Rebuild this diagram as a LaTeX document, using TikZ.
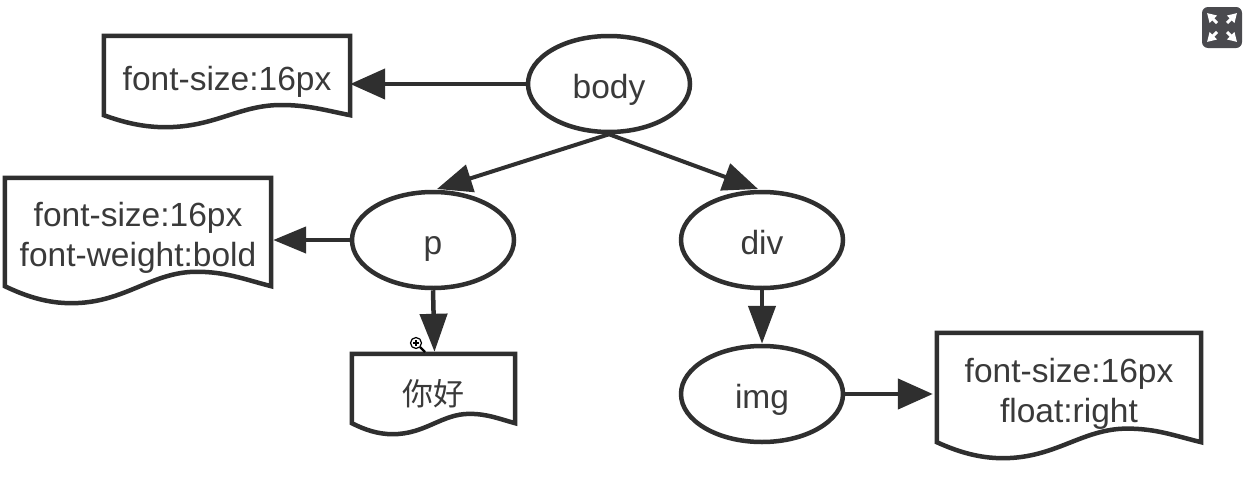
\documentclass[tikz,border=0pt]{standalone}
\usepackage{fontspec}
\setmainfont{Liberation Sans}
\newfontfamily\cjkfont{Noto Sans CJK SC}
\usetikzlibrary{arrows.meta,calc,shapes.geometric}
\definecolor{inkline}{HTML}{2F2F2F}
\definecolor{inktext}{HTML}{3A3A3A}
\definecolor{btnfill}{HTML}{4A4A4E}
% #1 node, #2 wave amplitude, #3 extra drop of the wave below the node
\newcommand{\docwave}[3]{%
  \draw[docline] let \p1=(#1.south west),\p2=(#1.north east),\n1={\x2-\x1},\n2={#2pt},\n3={\y1-#3pt} in
    (\x1,\n3+\n2) -- (\x1,\y2) -- (\x2,\y2) -- (\x2,\n3+\n2)
    .. controls (\x1+.90*\n1,\n3+1.4*\n2) and (\x1+.83*\n1,\n3+1.85*\n2) .. (\x1+.72*\n1,\n3+1.85*\n2)
    .. controls (\x1+.55*\n1,\n3+1.85*\n2) and (\x1+.45*\n1,\n3) .. (\x1+.25*\n1,\n3)
    .. controls (\x1+.16*\n1,\n3) and (\x1+.08*\n1,\n3+.4*\n2) .. cycle;}
\tikzset{
  x=1pt,y=-1pt,
  every node/.style={text=inktext,font=\fontsize{33.5}{40}\selectfont,align=center,inner sep=0pt},
  oval/.style={ellipse,draw=inkline,line width=4.5pt,minimum width=162pt,minimum height=96pt,text height=28pt,text depth=0pt},
  docbox/.style 2 args={rectangle,minimum width=#1pt,minimum height=#2pt},
  docline/.style={draw=inkline,line width=4.5pt,line join=miter},
  link/.style={draw=inkline,line width=4.5pt,-{Triangle[length=35pt,width=30pt]}},
  slantlink/.style={draw=inkline,line width=4pt,-{Triangle[length=35pt,width=28pt]}},
  smalllink/.style={draw=inkline,line width=4.5pt,-{Triangle[length=33pt,width=26pt]}},
  talllink/.style={draw=inkline,line width=4.5pt,-{Triangle[length=38pt,width=27pt]}},
  btnarrow/.style={draw=white,line width=3pt,-{Triangle[length=9pt,width=10pt]}}
}
\begin{document}
\begin{tikzpicture}
\useasboundingbox (0,0) rectangle (1247,479);
\fill[white] (0,0) rectangle (1247,479);
% ovals
\node[oval] (body) at (609,84) {body};
\node[oval] (p) at (433,240) {p};
\node[oval] (div) at (762,240) {div};
\node[oval] (img) at (762,394) {img};
% documents
\node[docbox={246}{91}] (d1) at (227,81.5) {font-size:16px};
\node[docbox={266}{119}] (d2) at (138,237.5) {font-size:16px\\font-weight:bold};
\node[docbox={163}{80}] (d3) at (433.5,394) {\fontsize{31}{40}\selectfont\cjkfont 你好};
\node[docbox={264}{121}] (d4) at (1069,393.5) {font-size:16px\\float:right};
\docwave{d1}{12}{0}
\docwave{d2}{17}{6}
\docwave{d3}{11}{0}
\docwave{d4}{16}{4}
% free ends
\coordinate (ptip) at (437,189);
\coordinate (divtip) at (758,189);
% connectors
\draw[link] (body.west) -- (d1.east |- body.west);
\draw[slantlink] (body.south) -- (ptip);
\draw[slantlink] (body.south) -- (divtip);
\draw[smalllink] (p.west) -- ([xshift=2pt]d2.east |- p.west);
\draw[talllink] (p.south) -- ([xshift=1pt,yshift=2pt]d3.north);
\draw[talllink] (div.south) -- (img.north);
\draw[link] (img.east) -- ([xshift=-4pt]d4.west |- img.east);
% expand button
\fill[btnfill,rounded corners=6pt] (1202,7) rectangle (1242,48);
\coordinate (b1s) at (1217,23); \coordinate (b1e) at (1207,13);
\coordinate (b2s) at (1227,23); \coordinate (b2e) at (1237,13);
\coordinate (b3s) at (1217,32); \coordinate (b3e) at (1207,42);
\coordinate (b4s) at (1227,32); \coordinate (b4e) at (1237,42);
\draw[btnarrow] (b1s) -- (b1e);
\draw[btnarrow] (b2s) -- (b2e);
\draw[btnarrow] (b3s) -- (b3e);
\draw[btnarrow] (b4s) -- (b4e);
% zoom cursor
\fill[white] (416,343) circle (7);
\draw[black,line width=1.2pt] (416,343) circle (5.5);
\draw[black,line width=1.2pt] (413,343) -- (419,343) (416,340) -- (416,346);
\draw[black,line width=2.4pt] (420,347) -- (425,352);
\end{tikzpicture}
\end{document}
